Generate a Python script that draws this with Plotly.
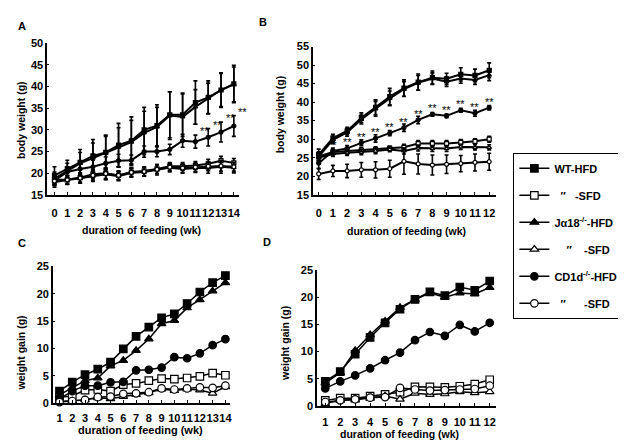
import plotly.graph_objects as go

# ---------------- data ----------------
weeks_A = [0, 1, 2, 3, 4, 5, 6, 7, 8, 9, 10, 11, 12, 13, 14]
weeks_B = [0, 1, 2, 3, 4, 5, 6, 7, 8, 9, 10, 11, 12]
weeks_C = [1, 2, 3, 4, 5, 6, 7, 8, 9, 10, 11, 12, 13, 14]
weeks_D = [1, 2, 3, 4, 5, 6, 7, 8, 9, 10, 11, 12]

group_names = ["WT-HFD", "\u00a0\u00a0\u2033\u00a0\u00a0\u00a0-SFD",
               "J\u03b118<sup>-/-</sup>-HFD", "\u00a0\u00a0\u00a0\u00a0\u2033\u00a0\u00a0\u00a0\u00a0-SFD",
               "CD1d<sup>-/-</sup>-HFD", "\u00a0\u00a0\u2033\u00a0\u00a0\u00a0\u00a0\u00a0\u00a0-SFD"]

# Panel A: body weight (g), 14 weeks
A_wt_hfd = [19.5, 21.0, 22.5, 24.0, 24.8, 26.5, 27.5, 30.0, 31.0, 33.5, 33.5, 36.3, 37.5, 39.2, 40.6]
A_wt_hfd_err = [2.0, 2.0, 3.0, 3.8, 4.0, 5.0, 5.5, 5.2, 4.8, 5.3, 5.0, 5.0, 3.8, 4.0, 4.3]
A_wt_sfd = [18.5, 18.5, 19.0, 19.8, 20.0, 19.5, 20.3, 20.5, 21.0, 21.6, 21.6, 21.8, 22.2, 22.9, 22.4]
A_wt_sfd_err = [1.0, 1.0, 1.0, 1.1, 1.2, 1.0, 1.0, 1.0, 1.0, 0.9, 0.9, 0.9, 1.0, 1.0, 1.0]
A_ja_hfd = [18.8, 20.5, 22.3, 23.5, 24.7, 26.0, 27.2, 29.3, 30.7, 33.3, 33.0, 35.3, 37.3, 39.2, 40.5]
A_ja_hfd_err = [1.5, 1.8, 2.5, 3.5, 3.8, 4.5, 5.0, 5.0, 4.5, 5.5, 5.3, 4.0, 3.5, 3.8, 4.0]
A_ja_sfd = [18.0, 18.4, 18.8, 19.3, 19.8, 19.3, 20.1, 20.3, 20.8, 21.3, 21.0, 21.2, 21.2, 21.5, 21.3]
A_ja_sfd_err = [1.2, 1.0, 1.0, 1.2, 1.3, 1.0, 1.0, 1.0, 1.2, 1.0, 1.0, 1.0, 1.2, 1.5, 1.2]
A_cd_hfd = [18.3, 20.3, 21.0, 21.5, 22.3, 22.9, 23.0, 25.0, 25.0, 25.5, 27.5, 27.3, 28.3, 29.5, 30.9]
A_cd_hfd_err = [1.0, 1.2, 1.3, 1.5, 1.5, 1.5, 1.2, 1.3, 1.2, 1.2, 1.5, 1.5, 2.0, 2.3, 2.4]
A_cd_sfd = [18.2, 18.5, 18.9, 19.5, 19.9, 19.5, 20.2, 20.4, 20.9, 21.4, 21.2, 21.4, 21.6, 21.7, 21.5]
A_cd_sfd_err = [1.0, 1.0, 1.2, 1.2, 1.3, 1.0, 1.0, 1.0, 1.0, 0.9, 1.0, 1.0, 1.0, 1.2, 1.0]
A_sig_weeks = [11, 12, 13, 14]

# Panel B: body weight (g), 12 weeks
B_wt_hfd = [25.8, 30.3, 32.2, 35.8, 38.6, 41.5, 43.8, 45.4, 46.6, 46.3, 47.5, 47.2, 48.6]
B_wt_hfd_err = [1.5, 1.0, 1.0, 1.3, 2.0, 2.2, 2.2, 2.2, 1.8, 1.5, 1.8, 1.7, 2.0]
B_wt_sfd = [25.3, 26.5, 26.8, 27.0, 27.2, 27.5, 27.8, 28.8, 28.8, 28.8, 29.1, 29.4, 30.0]
B_wt_sfd_err = [1.0, 0.8, 0.8, 0.7, 0.7, 0.6, 0.8, 0.8, 0.8, 0.8, 0.8, 0.7, 0.8]
B_ja_hfd = [25.3, 29.8, 31.8, 35.3, 38.2, 41.0, 43.5, 45.2, 46.4, 45.5, 46.4, 46.0, 47.3]
B_ja_hfd_err = [1.3, 1.0, 1.0, 1.2, 2.0, 2.0, 2.0, 2.0, 1.5, 1.3, 1.3, 1.2, 1.5]
B_ja_sfd = [25.0, 26.0, 26.3, 26.5, 26.8, 27.2, 26.8, 27.6, 27.5, 27.5, 27.9, 27.8, 27.8]
B_ja_sfd_err = [1.0, 0.7, 0.7, 0.7, 0.7, 0.6, 0.8, 0.8, 0.8, 0.8, 0.7, 0.7, 0.7]
B_cd_hfd = [23.5, 26.8, 27.5, 29.0, 30.2, 31.6, 33.1, 35.2, 36.7, 36.3, 37.8, 37.0, 38.5]
B_cd_hfd_err = [1.5, 0.8, 0.8, 0.8, 1.0, 0.7, 1.0, 1.0, 0.5, 0.5, 0.5, 0.8, 0.6]
B_cd_sfd = [20.6, 21.4, 21.4, 21.7, 21.7, 22.0, 24.0, 23.3, 23.0, 23.2, 23.4, 23.7, 23.9]
B_cd_sfd_err = [1.5, 1.5, 1.8, 2.0, 2.2, 2.3, 3.5, 2.7, 2.7, 2.5, 2.2, 2.3, 2.3]
B_sig_weeks = [1, 2, 3, 4, 5, 6, 7, 8, 9, 10, 11, 12]

# Panel C: weight gain (g), 14 weeks
C_wt_hfd = [2.2, 3.85, 5.2, 6.2, 7.5, 9.9, 12.2, 13.9, 15.6, 16.3, 18.2, 20.3, 22.0, 23.3]
C_wt_sfd = [1.1, 1.3, 2.4, 2.5, 2.2, 3.4, 3.6, 4.1, 4.5, 4.4, 4.6, 4.9, 5.5, 5.1]
C_ja_hfd = [1.5, 2.8, 4.1, 4.6, 6.8, 7.8, 9.6, 11.7, 14.5, 15.1, 17.4, 18.9, 20.5, 22.0]
C_ja_sfd = [0.3, 0.4, 0.6, 1.0, 0.8, 1.2, 1.6, 1.9, 2.6, 2.3, 2.6, 2.4, 1.8, 3.0]
C_cd_hfd = [0.8, 2.2, 3.2, 3.2, 3.8, 3.9, 6.0, 6.1, 6.5, 8.4, 8.2, 9.1, 10.6, 11.7]
C_cd_sfd = [0.2, 0.4, 0.6, 1.1, 1.2, 1.7, 1.8, 2.0, 2.7, 2.5, 2.7, 2.9, 2.8, 3.2]

# Panel D: weight gain (g), 12 weeks
D_wt_hfd = [4.5, 6.3, 9.5, 12.6, 15.3, 17.8, 19.6, 21.0, 20.3, 21.9, 21.3, 23.0]
D_wt_sfd = [1.0, 1.4, 1.4, 1.8, 2.1, 2.5, 3.5, 3.5, 3.4, 3.6, 4.0, 4.8]
D_ja_hfd = [4.2, 6.1, 10.2, 13.1, 15.6, 18.1, 19.6, 20.8, 20.0, 20.8, 20.6, 21.8]
D_ja_sfd = [0.4, 1.0, 1.1, 1.4, 1.8, 1.2, 2.3, 2.1, 2.2, 2.6, 2.4, 2.6]
D_cd_hfd = [3.2, 4.5, 5.6, 6.9, 8.4, 9.8, 12.1, 13.6, 12.9, 14.9, 13.7, 15.3]
D_cd_sfd = [0.7, 1.0, 1.2, 1.5, 1.6, 3.3, 3.0, 2.8, 2.9, 3.0, 3.1, 3.7]

# ---------------- styling ----------------
W, H = 626, 443
FONT = "Liberation Sans, Arial, sans-serif"
symbols = ["square", "square", "triangle-up", "triangle-up", "circle", "circle"]
fills = ["black", "white", "black", "white", "black", "white"]


def fx(px):
    return px / W


def fy(py):
    return 1 - py / H


fig = go.Figure()


def add_series(x, ys, errs, xa, ya, msize, lw, legend=False):
    for i, y in enumerate(ys):
        kw = {}
        if errs is not None:
            kw["error_y"] = dict(type="data", array=errs[i], visible=True,
                                 color="black", thickness=1.6, width=2)
        fig.add_trace(go.Scatter(
            x=x, y=y, mode="lines+markers", xaxis=xa, yaxis=ya,
            name=group_names[i], legendgroup="g%d" % i, showlegend=legend,
            line=dict(color="black", width=lw),
            marker=dict(symbol=symbols[i], color=fills[i], size=msize,
                        line=dict(color="black", width=1.2)),
            cliponaxis=False, **kw))


A_series = [A_wt_hfd, A_wt_sfd, A_ja_hfd, A_ja_sfd, A_cd_hfd, A_cd_sfd]
A_errs = [A_wt_hfd_err, A_wt_sfd_err, A_ja_hfd_err, A_ja_sfd_err, A_cd_hfd_err, A_cd_sfd_err]
B_series = [B_wt_hfd, B_wt_sfd, B_ja_hfd, B_ja_sfd, B_cd_hfd, B_cd_sfd]
B_errs = [B_wt_hfd_err, B_wt_sfd_err, B_ja_hfd_err, B_ja_sfd_err, B_cd_hfd_err, B_cd_sfd_err]
C_series = [C_wt_hfd, C_wt_sfd, C_ja_hfd, C_ja_sfd, C_cd_hfd, C_cd_sfd]
D_series = [D_wt_hfd, D_wt_sfd, D_ja_hfd, D_ja_sfd, D_cd_hfd, D_cd_sfd]

add_series(weeks_A, A_series, A_errs, "x", "y", 4, 2)
add_series(weeks_B, B_series, B_errs, "x2", "y2", 4, 2)
add_series(weeks_C, C_series, None, "x3", "y3", 7.5, 1.5, legend=True)
add_series(weeks_D, D_series, None, "x4", "y4", 7.5, 1.5)

tickfont = dict(family=FONT, size=11, color="black", weight="bold")


def xax(dom, rng, standoff):
    return dict(domain=[fx(dom[0]), fx(dom[1])], range=rng, dtick=1, showgrid=False,
                zeroline=False, showline=True, linecolor="black", linewidth=1.5,
                ticks="inside", ticklen=3, tickwidth=1.2, tickcolor="black",
                tickangle=0, tickfont=tickfont, ticklabelstandoff=standoff, fixedrange=True)


def yax(dom, rng, anchor):
    return dict(domain=[fy(dom[1]), fy(dom[0])], range=rng, dtick=5, showgrid=False,
                zeroline=False, showline=True, linecolor="black", linewidth=1.5,
                ticks="inside", ticklen=2, tickwidth=1.2, tickcolor="black",
                tickfont=tickfont, anchor=anchor, ticklabelstandoff=0, fixedrange=True)


fig.update_layout(
    xaxis=xax([39.3, 231.7], [-0.57, 14.4], 7) | dict(anchor="y"),
    yaxis=yax([30, 186], [15, 50], "x"),
    xaxis2=xax([306, 489.3], [-0.4, 12.46], 7) | dict(anchor="y2"),
    yaxis2=yax([33.5, 185.7], [15, 55], "x2"),
    xaxis3=xax([45, 222.7], [0.48, 14.36], 4) | dict(anchor="y3"),
    yaxis3=yax([259.3, 400], [0, 25], "x3"),
    xaxis4=xax([310, 490], [0.447, 12.45], 5) | dict(anchor="y4"),
    yaxis4=yax([263.3, 402.7], [0, 25], "x4"),
)

annotations = []


def label(text, x, y, size=11, angle=0):
    annotations.append(dict(text=text, x=fx(x), y=fy(y), xref="paper", yref="paper",
                            showarrow=False, textangle=angle, xanchor="center", yanchor="middle",
                            font=dict(family=FONT, size=size, color="black", weight="bold")))


label("A", 14, 12, 11)
label("B", 256, 8, 11)
label("C", 14, 235, 11)
label("D", 260, 234, 11)
label("duration of feeding (wk)", 133.5, 222, 10.5)
label("duration of feeding (wk)", 400, 223, 10.5)
label("duration of feeding (wk)", 133, 428, 11)
label("duration of feeding (wk)", 393, 432, 10.5)
label("body weight (g)", 13, 109, 10.5, -90)
label("body weight (g)", 273, 103, 10.5, -90)
label("weight gain (g)", 13, 348, 10.5, -90)
label("weight gain (g)", 278, 339, 10.5, -90)

# significance marks
for w in A_sig_weeks:
    i = weeks_A.index(w)
    annotations.append(dict(text="**", x=w, y=A_cd_hfd[i] + A_cd_hfd_err[i], xref="x", yref="y",
                            showarrow=False, xshift=9, yshift=4,
                            font=dict(family=FONT, size=11, color="black")))
for w in B_sig_weeks:
    i = weeks_B.index(w)
    annotations.append(dict(text="**", x=w, y=B_cd_hfd[i], xref="x2", yref="y2",
                            showarrow=False, yshift=6,
                            font=dict(family=FONT, size=11, color="black")))

fig.update_layout(annotations=annotations)

# legend brackets (decoration)
shapes = []
for top, bot in [(158, 199), (213, 254), (268, 309)]:
    path = "M %f,%f Q %f,%f %f,%f L %f,%f Q %f,%f %f,%f" % (
        fx(518), fy(top), fx(513), fy(top), fx(513), fy(top + 5),
        fx(513), fy(bot - 5), fx(513), fy(bot), fx(518), fy(bot))
    shapes.append(dict(type="path", path=path, xref="paper", yref="paper",
                       line=dict(color="black", width=0.8)))
fig.update_layout(shapes=shapes)

fig.update_layout(
    width=W, height=H, autosize=False,
    margin=dict(l=0, r=0, t=0, b=0),
    paper_bgcolor="white", plot_bgcolor="white",
    font=dict(family=FONT, color="black"),
    legend=dict(x=fx(507), y=fy(142.7), xanchor="left", yanchor="top",
                bordercolor="black", borderwidth=1, bgcolor="white",
                font=dict(family=FONT, size=11, color="black", weight="bold"),
                traceorder="grouped", tracegroupgap=8, itemwidth=30),
)

fig.write_html("out.html")
